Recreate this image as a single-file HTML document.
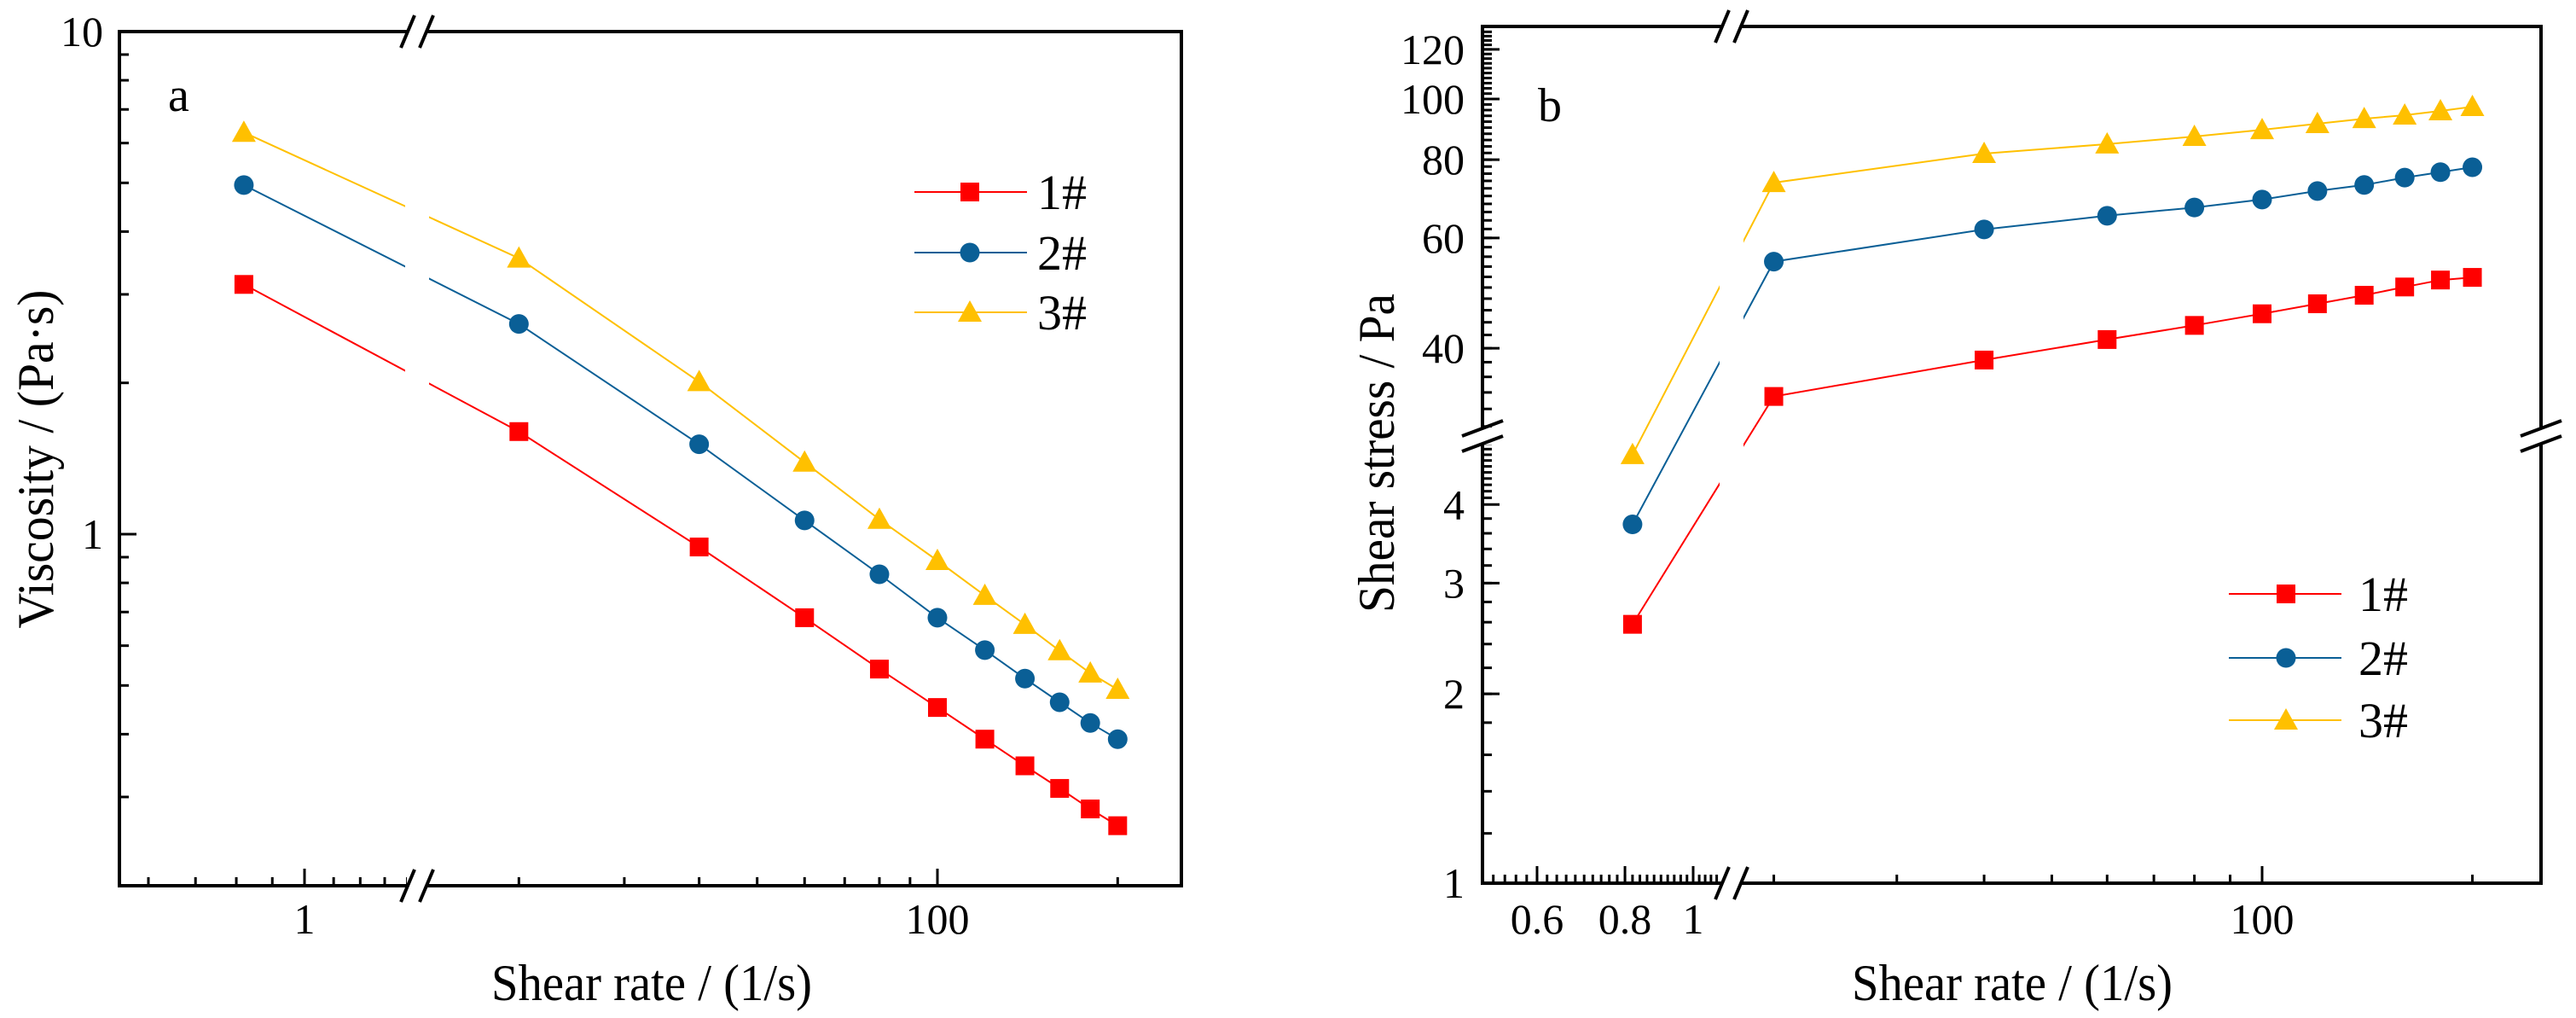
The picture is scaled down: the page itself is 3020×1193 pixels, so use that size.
<!DOCTYPE html>
<html><head><meta charset="utf-8"><style>
html,body{margin:0;padding:0;background:#fff;}
svg{display:block;}
text{font-family:"Liberation Serif","Times New Roman",serif;fill:#000;}
</style></head>
<body>
<svg id="chart" width="3020" height="1193" viewBox="0 0 3020 1193" xmlns="http://www.w3.org/2000/svg" font-family="Liberation Serif, serif">
<g id="panelA"></g>
<g id="panelB"></g>
</svg>
<script>
const shearRates = [0.82, 20, 40, 60, 80, 100, 120, 140, 160, 180, 200];
const viscosity1 = [3.14, 1.60, 0.943, 0.682, 0.539, 0.452, 0.391, 0.346, 0.312, 0.284, 0.263];
const viscosity2 = [4.95, 2.62, 1.51, 1.065, 0.832, 0.682, 0.588, 0.516, 0.463, 0.421, 0.391];
const viscosity3 = [6.30, 3.54, 2.01, 1.39, 1.07, 0.886, 0.755, 0.661, 0.586, 0.529, 0.491];
const stress1 = [2.58, 33.5, 38.3, 41.3, 43.5, 45.4, 47.1, 48.6, 50.1, 51.4, 51.9];
const stress2 = [3.72, 55.0, 61.9, 65.1, 67.1, 69.1, 71.3, 72.9, 74.9, 76.4, 77.8];
const stress3 = [4.80, 73.5, 81.8, 84.7, 87.1, 89.3, 91.3, 93.0, 94.2, 95.7, 97.2];
const seriesNames = ["1#", "2#", "3#"];
const xTickLabelsA = ["1", "100"];
const xTickLabelsB = ["0.6", "0.8", "1", "100"];
const yTickLabelsA = ["10", "1"];
const yTickLabelsB = ["1", "2", "3", "4", "40", "60", "80", "100", "120"];

const NS = "http://www.w3.org/2000/svg";
const colors = ["#ff0000", "#0a5f96", "#ffc000"];
const L = Math.log10;
const FF = "Liberation Serif, serif";

function mk(parent, tag, attrs, txt) {
  const e = document.createElementNS(NS, tag);
  for (const k in attrs) e.setAttribute(k, attrs[k]);
  if (txt !== undefined) { e.textContent = txt; e.setAttribute("font-family", FF); }
  parent.appendChild(e);
  return e;
}

const xA = v => v < 1.446 ? 357 + 825 * L(v) : 1099 + 702 * (L(v) - 2);
const yA = v => 626 - 589 * L(v);
const xB = v => v < 1.35 ? 1985 + 825 * L(v) : 2652 + 819 * (L(v) - 2);
const yB = v => v < 6 ? 1035 - 737 * L(v) : 116 - 734 * (L(v) - 2);

function marker(g, i, cx, cy, name) {
  let m;
  if (i === 0) m = mk(g, "rect", {x: cx - 11, y: cy - 11, width: 22, height: 22, fill: colors[0]});
  else if (i === 1) m = mk(g, "circle", {cx: cx, cy: cy, r: 11.5, fill: colors[1]});
  else m = mk(g, "polygon", {points: `${cx},${cy - 14} ${cx + 14},${cy + 11} ${cx - 14},${cy + 11}`, fill: colors[2]});
  
  
  return m;
}

function slashes(g, cx, cy, vertical, name) {
  const grp = mk(g, "g", {});
  
  
  if (vertical) {
    mk(grp, "rect", {x: cx - 12, y: cy - 18, width: 24, height: 36, fill: "#fff"});
    for (const d of [-11, 11]) mk(grp, "line", {x1: cx + d - 8, y1: cy + 19, x2: cx + d + 8, y2: cy - 19, stroke: "#000", "stroke-width": 4});
  } else {
    mk(grp, "rect", {x: cx - 18, y: cy - 10, width: 36, height: 20, fill: "#fff"});
    for (const d of [-9, 9]) mk(grp, "line", {x1: cx - 24, y1: cy + d + 9, x2: cx + 24, y2: cy + d - 9, stroke: "#000", "stroke-width": 4});
  }
}

function panel(g, cfg) {
  const {x0, x1, y0, y1, xs, ys, data, xBreak} = cfg;
  data.forEach((vals, i) => {
    const pts = shearRates.map((s, j) => `${xs(s).toFixed(1)},${ys(vals[j]).toFixed(1)}`).join(" ");
    const pl = mk(g, "polyline", {points: pts, fill: "none", stroke: colors[i], "stroke-width": 2});
    
    
  });
  mk(g, "rect", {x: xBreak - 14, y: y0 + 4, width: 28, height: y1 - y0 - 8, fill: "#fff"});
  data.forEach((vals, i) => {
    shearRates.forEach((s, j) => marker(g, i, xs(s), ys(vals[j]), 'point-s' + (i + 1) + '-' + j));
  });
  const fr = mk(g, "rect", {x: x0, y: y0, width: x1 - x0, height: y1 - y0, fill: "none", stroke: "#000", "stroke-width": 4});
  
  
}

function tick(g, x1, y1, x2, y2) { mk(g, "line", {x1, y1, x2, y2, stroke: "#000", "stroke-width": 3}); }

function legend(g, x0, markerX, textX, rows) {
  rows.forEach((ry, i) => {
    const lg = mk(g, "g", {});
    
    
    mk(lg, "line", {x1: x0, y1: ry, x2: x0 + 132, y2: ry, stroke: colors[i], "stroke-width": 2});
    marker(lg, i, markerX, ry, 'legend-marker-' + (i + 1));
    const t = mk(lg, "text", {x: textX, y: ry + 20, "font-size": 58}, seriesNames[i]);
    
    
  });
}

// ---------- Panel A ----------
const gA = document.getElementById("panelA");
panel(gA, {x0: 140, x1: 1385, y0: 37, y1: 1038, xs: xA, ys: yA, data: [viscosity1, viscosity2, viscosity3], xBreak: 489});
for (let d = -1; d <= 0; d++) for (let m = 1; m <= 9; m++) {
  const v = m * Math.pow(10, d); if (v < 0.2) continue;
  const y = yA(v); tick(gA, 140, y, 140 + (m === 1 ? 20 : 11), y);
}
tick(gA, 140, yA(10), 160, yA(10));
[10, 1].forEach((v, i) => {
  const t = mk(gA, "text", {x: 121, y: yA(v) + 17, "font-size": 50, "text-anchor": "end"}, yTickLabelsA[i]);
  
  
});
[0.6, 0.7, 0.8, 0.9, 1.1, 1.2, 1.3, 1.4].forEach(v => tick(gA, xA(v), 1038, xA(v), 1028));
tick(gA, xA(1), 1038, xA(1), 1018);
[20, 30, 40, 50, 60, 70, 80, 90, 200].forEach(v => tick(gA, xA(v), 1038, xA(v), 1028));
tick(gA, xA(100), 1038, xA(100), 1018);
[1, 100].forEach((v, i) => {
  const t = mk(gA, "text", {x: xA(v), y: 1094, "font-size": 50, "text-anchor": "middle"}, xTickLabelsA[i]);
  
  
});
slashes(gA, 489, 37, true, 'x-break-top');
slashes(gA, 489, 1038, true, 'x-break-bottom');
legend(gA, 1072, 1137, 1216, [225, 296, 366]);
let t;
t = mk(gA, "text", {x: 197, y: 130, "font-size": 56}, "a");


t = mk(gA, "text", {x: 764, y: 1172, "font-size": 60, "text-anchor": "middle", textLength: 376, lengthAdjust: "spacingAndGlyphs"}, "Shear rate / (1/s)");


t = mk(gA, "text", {x: 0, y: 0, "font-size": 60, "text-anchor": "middle", textLength: 397, lengthAdjust: "spacingAndGlyphs", transform: "translate(62,538) rotate(-90)"}, "Viscosity / (Pa·s)");



// ---------- Panel B ----------
const gB = document.getElementById("panelB");
panel(gB, {x0: 1738, x1: 2979, y0: 31, y1: 1035, xs: xB, ys: yB, data: [stress1, stress2, stress3], xBreak: 2030});
for (let v = 1.2; v < 4; v += 0.2) tick(gB, 1738, yB(v), 1749, yB(v));
for (let v = 4.1; v < 5.15; v += 0.1) tick(gB, 1738, yB(v), 1749, yB(v));
for (let v = 30; v <= 128; v += 2) tick(gB, 1738, yB(v), 1749, yB(v));
[1, 2, 3, 4, 40, 60, 80, 100, 120].forEach((v, i) => {
  tick(gB, 1738, yB(v), 1758, yB(v));
  const tt = mk(gB, "text", {x: 1717, y: yB(v) + 17, "font-size": 50, "text-anchor": "end"}, yTickLabelsB[i]);
  
  
});
for (let v = 0.52; v <= 1.1; v += 0.02) tick(gB, xB(v), 1035, xB(v), 1025);
[20, 30, 40, 50, 60, 70, 80, 90, 200].forEach(v => tick(gB, xB(v), 1035, xB(v), 1025));
[0.6, 0.8, 1, 100].forEach((v, i) => {
  tick(gB, xB(v), 1035, xB(v), 1015);
  const tt = mk(gB, "text", {x: xB(v), y: 1094, "font-size": 50, "text-anchor": "middle"}, xTickLabelsB[i]);
  
  
});
slashes(gB, 2030, 31, true, 'x-break-top');
slashes(gB, 2030, 1035, true, 'x-break-bottom');
slashes(gB, 1738, 511, false, 'y-break-left');
slashes(gB, 2979, 511, false, 'y-break-right');
legend(gB, 2613, 2680, 2765, [696, 771, 844]);
t = mk(gB, "text", {x: 1803, y: 142, "font-size": 56}, "b");


t = mk(gB, "text", {x: 2359, y: 1172, "font-size": 60, "text-anchor": "middle", textLength: 376, lengthAdjust: "spacingAndGlyphs"}, "Shear rate / (1/s)");


t = mk(gB, "text", {x: 0, y: 0, "font-size": 60, "text-anchor": "middle", textLength: 374, lengthAdjust: "spacingAndGlyphs", transform: "translate(1634,531) rotate(-90)"}, "Shear stress / Pa");


</script>
</body></html>
